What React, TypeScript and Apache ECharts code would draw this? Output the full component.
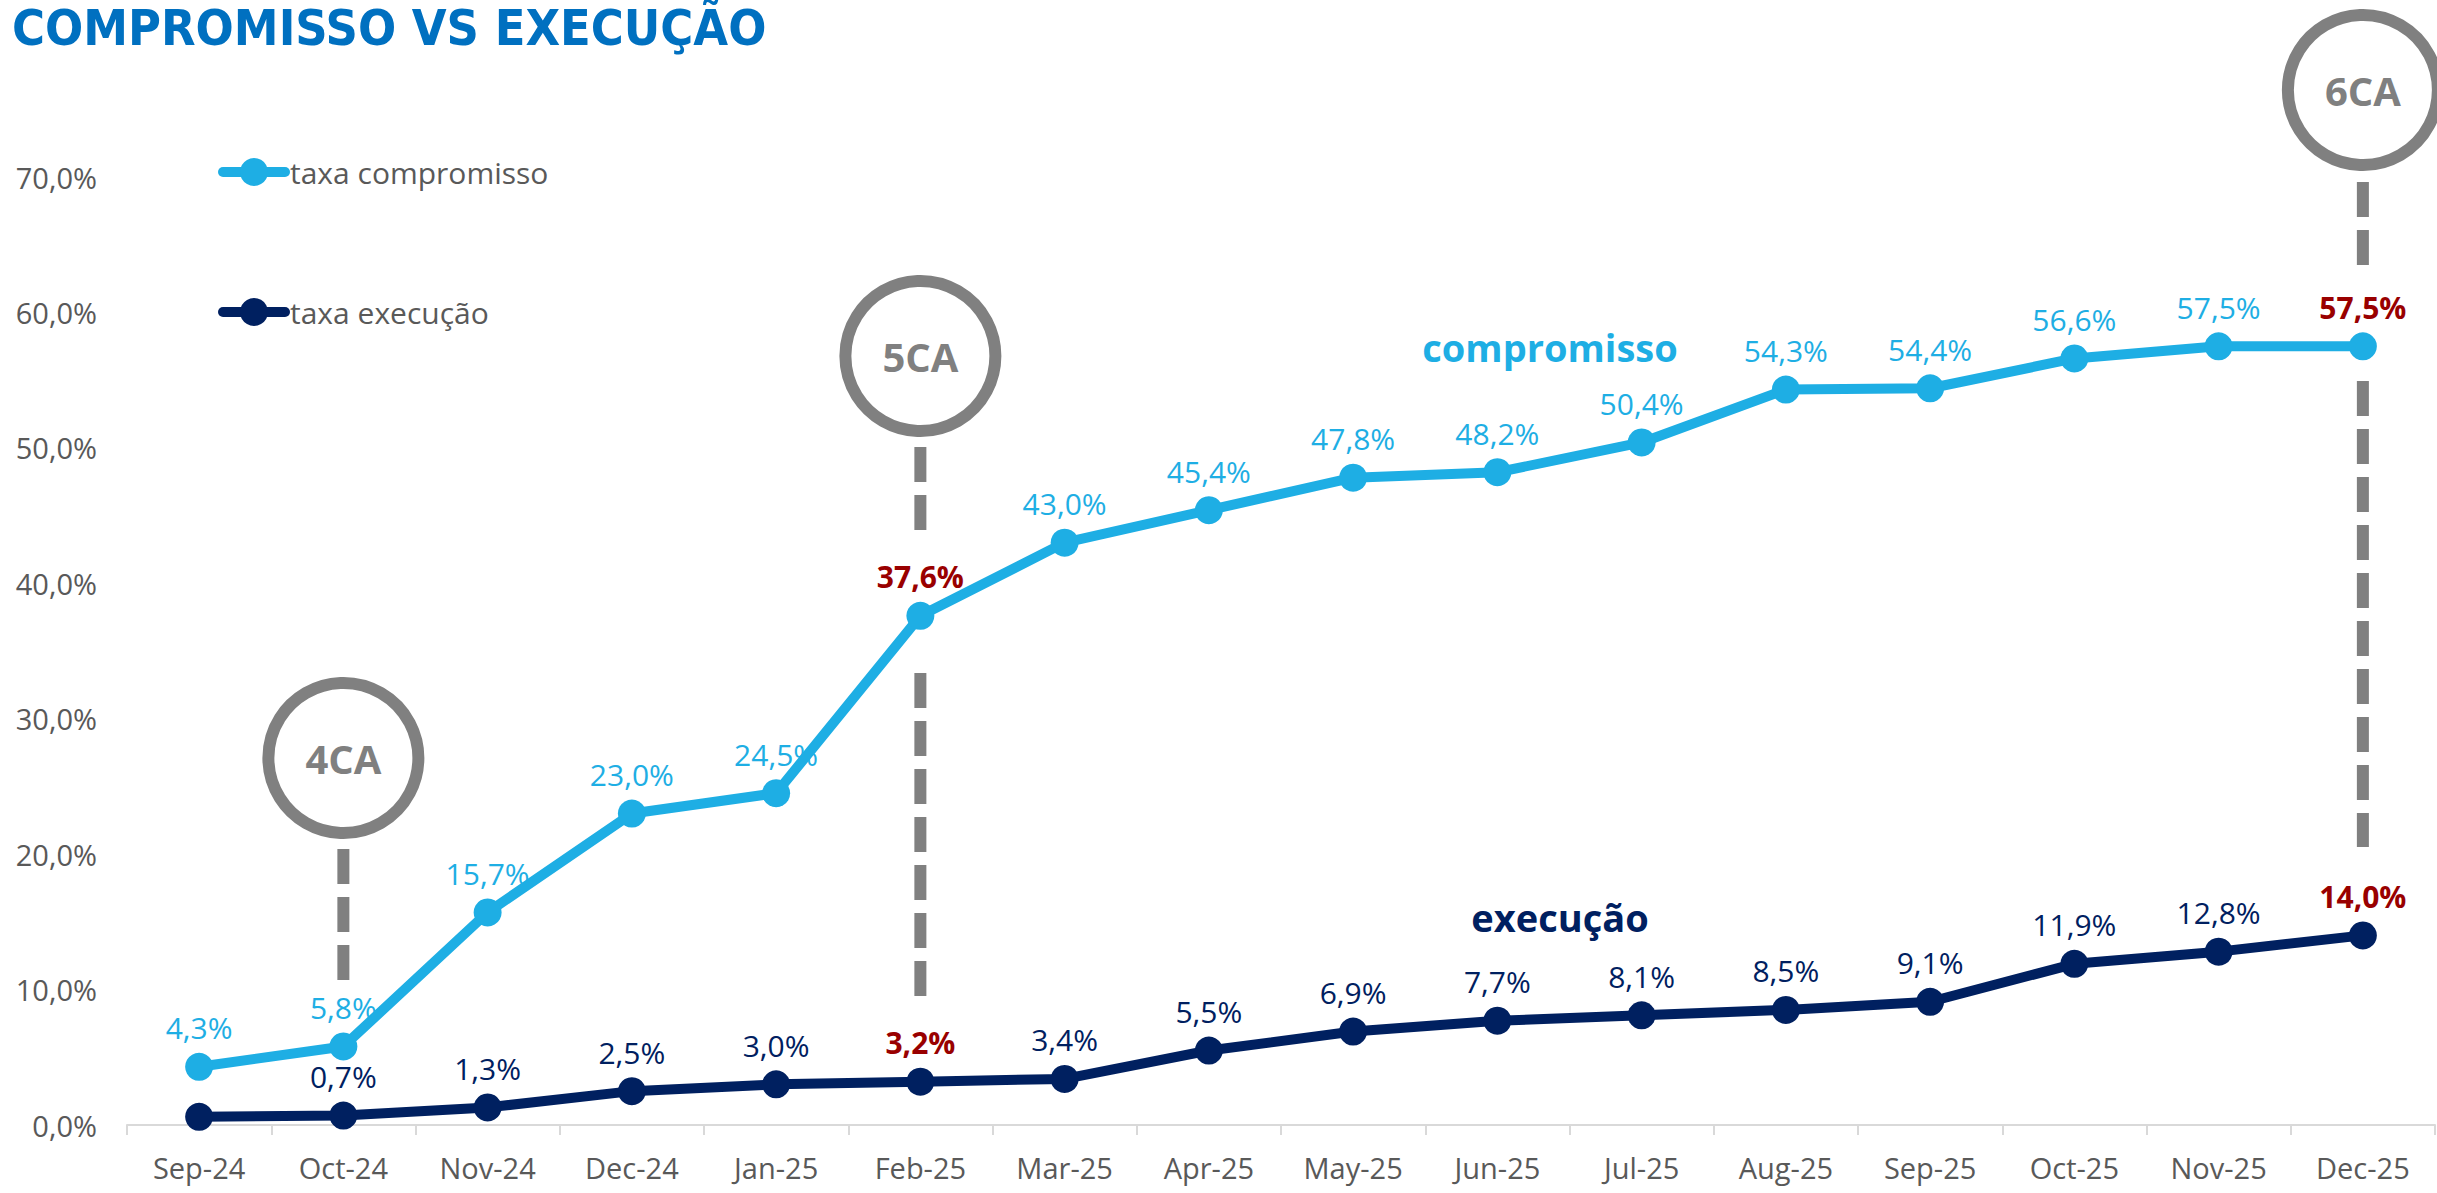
import React, { useEffect, useRef } from "react";
import * as echarts from "echarts";

const months = ["Sep-24", "Oct-24", "Nov-24", "Dec-24", "Jan-25", "Feb-25", "Mar-25", "Apr-25", "May-25", "Jun-25", "Jul-25", "Aug-25", "Sep-25", "Oct-25", "Nov-25", "Dec-25"];
const compromisso = [4.3, 5.8, 15.7, 23.0, 24.5, 37.6, 43.0, 45.4, 47.8, 48.2, 50.4, 54.3, 54.4, 56.6, 57.5, 57.5];
const execucao = [0.6, 0.7, 1.3, 2.5, 3.0, 3.2, 3.4, 5.5, 6.9, 7.7, 8.1, 8.5, 9.1, 11.9, 12.8, 14.0];
const highlightIdx = [5, 15];
const hiddenExecLabelIdx = [0];
const milestones = [
  { name: "4CA", month: "Oct-24" },
  { name: "5CA", month: "Feb-25" },
  { name: "6CA", month: "Dec-25" },
];

const TITLE = "COMPROMISSO VS EXECUÇÃO";
const LIGHT = "#1EAEE4";
const NAVY = "#002060";
const RED = "#990000";
const GRAY = "#808080";
const TXT = "#595959";
const FONT = "'Open Sans', 'Noto Sans', sans-serif";

const fmt = (v: number) => v.toFixed(1).replace(".", ",") + "%";

function buildData(values: number[], color: string, hidden: number[]) {
  return values.map((v, i) => {
    const hi = highlightIdx.includes(i);
    return {
      value: v,
      label: {
        show: !hidden.includes(i),
        color: hi ? RED : color,
        fontWeight: hi ? "bold" : "normal",
      },
    };
  });
}

export default function App() {
  const ref = useRef<HTMLDivElement>(null);
  useEffect(() => {
    if (!ref.current) return;
    const chart = echarts.init(ref.current, null, { renderer: "svg" });
    const labelBase = {
      show: true,
      position: "top",
      distance: 10,
      fontSize: 30,
      fontFamily: FONT,
      formatter: (p: any) => fmt(p.value),
    };
    const legendBase = {
      left: 213,
      itemWidth: 62,
      itemHeight: 35,
      lineStyle: { width: 10, cap: "round" },
      textStyle: { fontSize: 30, color: TXT, fontFamily: FONT },
    };
    chart.setOption({
      animation: false,
      backgroundColor: "#ffffff",
      grid: { left: 127, right: 2, top: 177, bottom: 68 },
      legend: [
        { ...legendBase, data: ["taxa compromisso"], top: 152 },
        { ...legendBase, data: ["taxa execução"], top: 292 },
      ],
      xAxis: {
        type: "category",
        data: months,
        boundaryGap: true,
        axisLine: { lineStyle: { color: "#D9D9D9", width: 2 } },
        axisTick: { show: true, length: 10, lineStyle: { color: "#D9D9D9", width: 2 } },
        axisLabel: { color: TXT, fontSize: 29, fontFamily: FONT, margin: 28 },
      },
      yAxis: {
        type: "value",
        min: 0,
        max: 70,
        interval: 10,
        axisLine: { show: false },
        axisTick: { show: false },
        splitLine: { show: false },
        axisLabel: { color: TXT, fontSize: 29, fontFamily: FONT, margin: 30, formatter: (v: number) => fmt(v) },
      },
      series: [
        {
          name: "taxa compromisso",
          type: "line",
          data: buildData(compromisso, LIGHT, []),
          symbol: "circle",
          symbolSize: 28,
          lineStyle: { color: LIGHT, width: 10 },
          itemStyle: { color: LIGHT },
          label: labelBase,
          z: 3,
        },
        {
          name: "taxa execução",
          type: "line",
          data: buildData(execucao, NAVY, hiddenExecLabelIdx),
          symbol: "circle",
          symbolSize: 28,
          lineStyle: { color: NAVY, width: 10 },
          itemStyle: { color: NAVY },
          label: labelBase,
          z: 4,
        },
      ],
    });

    const xOf = (m: string) => (chart.convertToPixel({ gridIndex: 0 }, [months.indexOf(m), 0]) as number[])[0];
    // decorative circle centres (pixel y) and dash segments
    const circY: Record<string, number> = { "4CA": 758, "5CA": 356, "6CA": 90 };
    const dashes: Record<string, number[][]> = {
      "4CA": [[849, 980]],
      "5CA": [[447, 530], [673, 996]],
      "6CA": [[182, 265], [381, 847]],
    };
    const graphics: any[] = [];
    milestones.forEach((ms) => {
      const x = xOf(ms.month);
      graphics.push({
        type: "circle",
        shape: { cx: x, cy: circY[ms.name], r: 75 },
        style: { fill: "#ffffff", stroke: GRAY, lineWidth: 12 },
        z: 1,
      });
      graphics.push({
        type: "text",
        x: x,
        y: circY[ms.name],
        style: {
          text: ms.name,
          fill: GRAY,
          font: `bold 40px ${FONT}`,
          align: "center",
          verticalAlign: "middle",
        },
        z: 2,
      });
      dashes[ms.name].forEach(([y1, y2]) => {
        graphics.push({
          type: "line",
          shape: { x1: x, y1, x2: x, y2 },
          style: { stroke: GRAY, lineWidth: 12, lineDash: [35, 13] },
          z: 0,
        });
      });
    });
    graphics.push({
      type: "text",
      x: 12,
      y: 28,
      style: {
        text: TITLE,
        fill: "#0070C0",
        font: `bold 50px 'Liberation Sans Narrow', 'DejaVu Sans Condensed', sans-serif`,
        align: "left",
        verticalAlign: "middle",
      },
    });
    graphics.push({
      type: "text",
      x: 1550,
      y: 347,
      style: { text: "compromisso", fill: LIGHT, font: `bold 38px ${FONT}`, align: "center", verticalAlign: "middle" },
    });
    graphics.push({
      type: "text",
      x: 1560,
      y: 917,
      style: { text: "execução", fill: NAVY, font: `bold 38px ${FONT}`, align: "center", verticalAlign: "middle" },
    });
    chart.setOption({ graphic: graphics });

    return () => chart.dispose();
  }, []);
  return <div ref={ref} style={{ position: "absolute", left: 0, top: 0, width: 2437, height: 1193 }} />;
}
